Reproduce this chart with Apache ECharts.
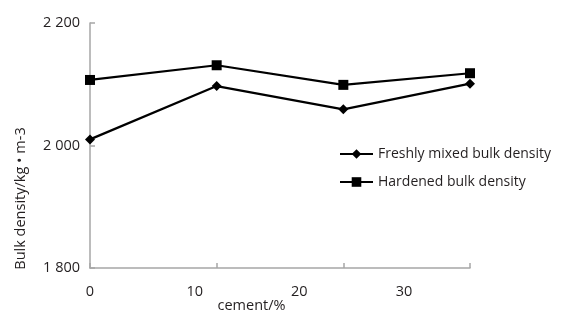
<!DOCTYPE html>
<html><head><meta charset="utf-8">
<script src="https://cdn.jsdelivr.net/npm/echarts@6/dist/echarts.min.js"></script>
<style>html,body{margin:0;padding:0;background:#fff}#c{width:568px;height:311px}</style>
</head><body><div id="c"></div>
<script>
var categories = ['p0', 'p1', 'p2', 'p3'];
var freshly = [2010, 2097, 2059, 2101];
var hardened = [2107, 2131, 2099, 2118];
var xTickLabels = [0, 10, 20, 30];
var yTicks = [1800, 2000, 2200];

var FONT = 'Open Sans';
var TXT = '#231f20';
var chart = echarts.init(document.getElementById('c'));
chart.setOption({
  animation: false,
  textStyle: {fontFamily: FONT},
  grid: {left: 90, right: 98, top: 23, bottom: 43, containLabel: false, outerBoundsMode: 'none'},
  legend: {
    orient: 'vertical', left: 334, top: 142, padding: 5,
    itemWidth: 33, itemHeight: 12, itemGap: 14,
    textStyle: {fontFamily: FONT, fontSize: 14, color: TXT},
    data: ['Freshly mixed bulk density', 'Hardened bulk density']
  },
  xAxis: [{
    type: 'category', data: categories, boundaryGap: false, position: 'bottom',
    axisLine: {lineStyle: {color: '#a6a6a6', width: 1.5}},
    axisTick: {inside: true, length: 5, lineStyle: {color: '#a6a6a6', width: 1.5}},
    axisLabel: {show: false}, splitLine: {show: false}
  }, {
    type: 'value', min: 0, max: 36.3, interval: 10, position: 'bottom',
    axisLine: {show: false}, axisTick: {show: false}, splitLine: {show: false},
    axisLabel: {margin: 16, fontSize: 14.5, color: TXT, fontFamily: FONT,
      customValues: xTickLabels},
    name: 'cement/%', nameLocation: 'middle', nameGap: 30, nameMoveOverlap: false,
    nameTextStyle: {fontSize: 14.5, color: TXT, fontFamily: FONT, padding: [0, 57, 0, 0]}
  }],
  yAxis: {
    type: 'value', min: 1800, max: 2200, interval: 200,
    axisLine: {show: true, lineStyle: {color: '#a6a6a6', width: 1.5}},
    axisTick: {show: true, inside: true, length: 5, lineStyle: {color: '#a6a6a6', width: 1.5}},
    splitLine: {show: false},
    axisLabel: {margin: 10, fontSize: 14.5, color: TXT, fontFamily: FONT,
      customValues: yTicks,
      formatter: function (v) { var s = String(v); return s.slice(0, 1) + ' ' + s.slice(1); }},
    name: 'Bulk density/kg • m-3', nameLocation: 'middle', nameGap: 62, nameMoveOverlap: false,
    nameTextStyle: {fontSize: 14.5, color: TXT, fontFamily: FONT, padding: [0, 106, 0, 0]}
  },
  series: [{
    name: 'Freshly mixed bulk density', type: 'line', xAxisIndex: 0, data: freshly,
    symbol: 'diamond', symbolSize: 10, showSymbol: true,
    lineStyle: {color: '#000', width: 2.2}, itemStyle: {color: '#000'}
  }, {
    name: 'Hardened bulk density', type: 'line', xAxisIndex: 0, data: hardened,
    symbol: 'rect', symbolSize: 10, showSymbol: true,
    lineStyle: {color: '#000', width: 2.2}, itemStyle: {color: '#000'}
  }]
});
</script></body></html>
